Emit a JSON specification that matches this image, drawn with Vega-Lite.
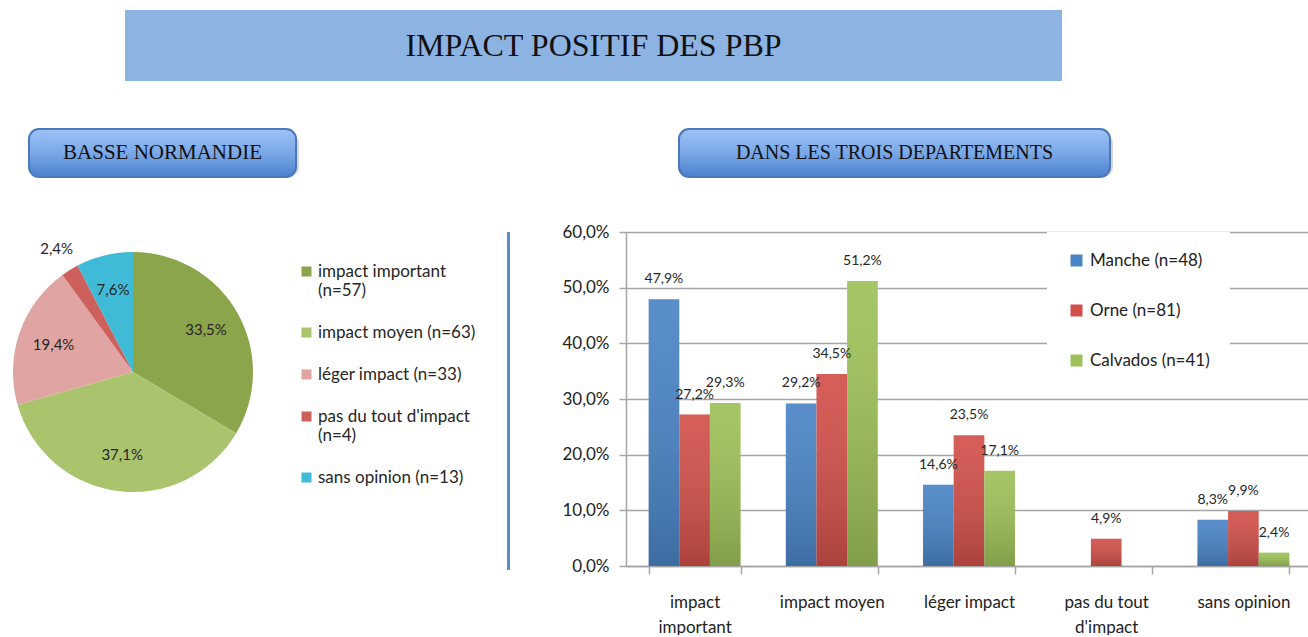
{
  "$schema": "https://vega.github.io/schema/vega-lite/v6.json",
  "padding": {"left": 0, "top": 10, "right": 0, "bottom": 0},
  "background": "white",
  "config": {
    "view": {"stroke": null},
    "font": "Lato",
    "locale": {"number": {"decimal": ",", "thousands": " ", "grouping": [3], "currency": ["", " €"]}}
  },
  "resolve": {"scale": {"color": "independent"}, "legend": {"color": "independent"}},
  "spacing": 47,
  "vconcat": [
    {
      "spacing": 0,
      "hconcat": [
        {"width": 125, "height": 71, "data": {"values": [{"role": "marge"}]}, "mark": {"type": "rect", "color": "white"}, "encoding": {}},
        {
          "width": 937, "height": 71,
          "data": {"values": [{"titre": "IMPACT POSITIF DES PBP"}]},
          "layer": [
            {"mark": {"type": "rect", "color": "#8db3e2"}, "encoding": {}},
            {"mark": {"type": "text", "font": "Liberation Serif", "fontSize": 32, "color": "#111111"}, "encoding": {"text": {"field": "titre"}}}
          ]
        }
      ]
    },
    {
      "spacing": 45,
      "resolve": {"scale": {"color": "independent"}, "legend": {"color": "independent"}},
      "vconcat": [
        {
          "spacing": 0,
          "hconcat": [
            {"width": 28, "height": 48, "data": {"values": [{"role": "marge"}]}, "mark": {"type": "rect", "color": "white"}, "encoding": {}},
            {
              "width": 267, "height": 48,
              "data": {"values": [{"titre": "BASSE NORMANDIE"}]},
              "layer": [
                {"mark": {"type": "rect", "color": "#8a8a8a", "opacity": 0.35, "cornerRadius": 10, "xOffset": 3, "yOffset": 5}, "encoding": {}},
                {"mark": {"type": "rect", "cornerRadius": 10, "stroke": "#4a78b8", "strokeWidth": 2, "fill": {"gradient": "linear", "x1": 0, "y1": 0, "x2": 0, "y2": 1, "stops": [{"offset": 0, "color": "#9cc3f5"}, {"offset": 0.5, "color": "#7aa8e8"}, {"offset": 1, "color": "#4b80cc"}]}}, "encoding": {}},
                {"mark": {"type": "text", "font": "Liberation Serif", "fontSize": 21, "color": "#111111"}, "encoding": {"text": {"field": "titre"}}}
              ]
            },
            {"width": 379, "height": 48, "data": {"values": [{"role": "marge"}]}, "mark": {"type": "rect", "color": "white"}, "encoding": {}},
            {
              "width": 431, "height": 48,
              "data": {"values": [{"titre": "DANS LES TROIS DEPARTEMENTS"}]},
              "layer": [
                {"mark": {"type": "rect", "color": "#8a8a8a", "opacity": 0.35, "cornerRadius": 10, "xOffset": 3, "yOffset": 5}, "encoding": {}},
                {"mark": {"type": "rect", "cornerRadius": 10, "stroke": "#4a78b8", "strokeWidth": 2, "fill": {"gradient": "linear", "x1": 0, "y1": 0, "x2": 0, "y2": 1, "stops": [{"offset": 0, "color": "#9cc3f5"}, {"offset": 0.5, "color": "#7aa8e8"}, {"offset": 1, "color": "#4b80cc"}]}}, "encoding": {}},
                {"mark": {"type": "text", "font": "Liberation Serif", "fontSize": 20, "color": "#111111"}, "encoding": {"text": {"field": "titre"}}}
              ]
            }
          ]
        },
        {
          "spacing": 0,
          "resolve": {"scale": {"color": "independent"}, "legend": {"color": "independent"}},
          "hconcat": [
            {"width": 13, "height": 280, "data": {"values": [{"role": "marge"}]}, "mark": {"type": "rect", "color": "white"}, "encoding": {}},
            {
              "width": 240, "height": 280,
              "data": {"values": [
                {"reponse": "impact important (n=57)", "n": 57, "pct": 0.335},
                {"reponse": "impact moyen (n=63)", "n": 63, "pct": 0.371},
                {"reponse": "léger impact (n=33)", "n": 33, "pct": 0.194},
                {"reponse": "pas du tout d'impact (n=4)", "n": 4, "pct": 0.024},
                {"reponse": "sans opinion (n=13)", "n": 13, "pct": 0.076}
              ]},
              "encoding": {
                "theta": {"field": "n", "type": "quantitative", "stack": true},
                "order": {"field": "reponse", "type": "ordinal"}
              },
              "layer": [
                {
                  "mark": {"type": "arc", "radius": 120},
                  "encoding": {
                    "color": {
                      "field": "reponse", "type": "nominal",
                      "scale": {
                        "domain": ["impact important (n=57)", "impact moyen (n=63)", "léger impact (n=33)", "pas du tout d'impact (n=4)", "sans opinion (n=13)"],
                        "range": ["#8ba54b", "#aac46e", "#e0a4a2", "#cd605d", "#3fbbd8"]
                      },
                      "legend": {
                        "title": null, "orient": "none", "legendX": 285, "legendY": 31, "padding": 0,
                        "symbolType": "square", "symbolSize": 100, "symbolStrokeWidth": 0,
                        "labelFont": "Lato", "labelFontSize": 17, "labelColor": "#262626", "labelLimit": 400,
                        "rowPadding": 24, "labelOffset": 3,
                        "labelExpr": "length(datum.label) > 20 ? [substring(datum.label, 0, lastindexof(datum.label, ' ')), substring(datum.label, lastindexof(datum.label, ' ') + 1)] : datum.label"
                      }
                    }
                  }
                },
                {
                  "mark": {"type": "text", "radius": {"expr": "datum.n < 5 ? 145 : 84"}, "fontSize": 15, "font": "Lato", "color": "#262626"},
                  "encoding": {"text": {"field": "pct", "type": "quantitative", "format": ".1%"}}
                }
              ]
            },
            {"width": 31, "height": 280, "data": {"values": [{"role": "marge"}]}, "mark": {"type": "rect", "color": "white"}, "encoding": {}},
            {"width": 3, "height": 338, "data": {"values": [{"role": "separateur"}]}, "mark": {"type": "rect", "color": "#5b8bd0"}, "encoding": {}},
            {"width": 51, "height": 280, "data": {"values": [{"role": "marge"}]}, "mark": {"type": "rect", "color": "white"}, "encoding": {}},
            {
              "width": 686, "height": 334,
              "data": {"values": [
                {"reponse": "impact important", "departement": "Manche (n=48)", "pct": 0.479},
                {"reponse": "impact important", "departement": "Orne (n=81)", "pct": 0.272},
                {"reponse": "impact important", "departement": "Calvados (n=41)", "pct": 0.293},
                {"reponse": "impact moyen", "departement": "Manche (n=48)", "pct": 0.292},
                {"reponse": "impact moyen", "departement": "Orne (n=81)", "pct": 0.345},
                {"reponse": "impact moyen", "departement": "Calvados (n=41)", "pct": 0.512},
                {"reponse": "léger impact", "departement": "Manche (n=48)", "pct": 0.146},
                {"reponse": "léger impact", "departement": "Orne (n=81)", "pct": 0.235},
                {"reponse": "léger impact", "departement": "Calvados (n=41)", "pct": 0.171},
                {"reponse": "pas du tout d'impact", "departement": "Orne (n=81)", "pct": 0.049},
                {"reponse": "sans opinion", "departement": "Manche (n=48)", "pct": 0.083},
                {"reponse": "sans opinion", "departement": "Orne (n=81)", "pct": 0.099},
                {"reponse": "sans opinion", "departement": "Calvados (n=41)", "pct": 0.024}
              ]},
              "encoding": {
                "x": {
                  "field": "reponse", "type": "nominal",
                  "sort": ["impact important", "impact moyen", "léger impact", "pas du tout d'impact", "sans opinion"],
                  "scale": {"paddingInner": 0.33, "paddingOuter": 0.165},
                  "axis": {
                    "title": null, "labelAngle": 0, "tickBand": "extent", "tickSize": 8, "labelPadding": 20,
                    "labelFont": "Lato", "labelFontSize": 17, "labelColor": "#222222", "labelLineHeight": 25,
                    "domainColor": "#a5a5a5", "domainWidth": 1.5, "tickColor": "#a5a5a5", "tickWidth": 1.5, "grid": false,
                    "labelExpr": "length(datum.label) > 13 ? [substring(datum.label, 0, lastindexof(datum.label, ' ')), substring(datum.label, lastindexof(datum.label, ' ') + 1)] : datum.label"
                  }
                },
                "xOffset": {"field": "departement", "type": "nominal", "sort": ["Manche (n=48)", "Orne (n=81)", "Calvados (n=41)"]},
                "y": {
                  "field": "pct", "type": "quantitative",
                  "scale": {"domain": [0, 0.6]},
                  "axis": {
                    "title": null, "values": [0, 0.1, 0.2, 0.3, 0.4, 0.5, 0.6], "format": ".1%",
                    "labelFont": "Lato", "labelFontSize": 17, "labelColor": "#222222", "labelPadding": 10,
                    "tickSize": 7, "tickColor": "#a5a5a5", "tickWidth": 1.5,
                    "gridColor": "#a5a5a5", "gridWidth": 1.5, "domainColor": "#a5a5a5", "domainWidth": 1.5
                  }
                }
              },
              "layer": [
                {
                  "mark": {"type": "bar"},
                  "encoding": {
                    "color": {
                      "field": "departement", "type": "nominal",
                      "scale": {"domain": ["Manche (n=48)", "Orne (n=81)", "Calvados (n=41)"], "range": ["#4a84c6", "#d2504a", "#9dc158"]},
                      "legend": {
                        "title": null, "orient": "none", "legendX": 421, "legendY": 0, "fillColor": "white", "padding": 20,
                        "symbolType": "square", "symbolSize": 144, "symbolStrokeWidth": 0, "symbolOffset": 1,
                        "labelFont": "Lato", "labelFontSize": 17, "labelColor": "#222222", "labelLimit": 300,
                        "rowPadding": 32, "labelOffset": 5
                      }
                    }
                  }
                },
                {
                  "mark": {"type": "bar", "fill": {"gradient": "linear", "x1": 0, "y1": 0, "x2": 0, "y2": 1, "stops": [{"offset": 0, "color": "rgba(255,255,255,0.08)"}, {"offset": 1, "color": "rgba(0,0,0,0.18)"}]}}
                },
                {
                  "mark": {"type": "text", "dy": -20, "fontSize": 14, "font": "Lato", "color": "#262626"},
                  "encoding": {"text": {"field": "pct", "type": "quantitative", "format": ".1%"}}
                }
              ]
            }
          ]
        }
      ]
    }
  ]
}
